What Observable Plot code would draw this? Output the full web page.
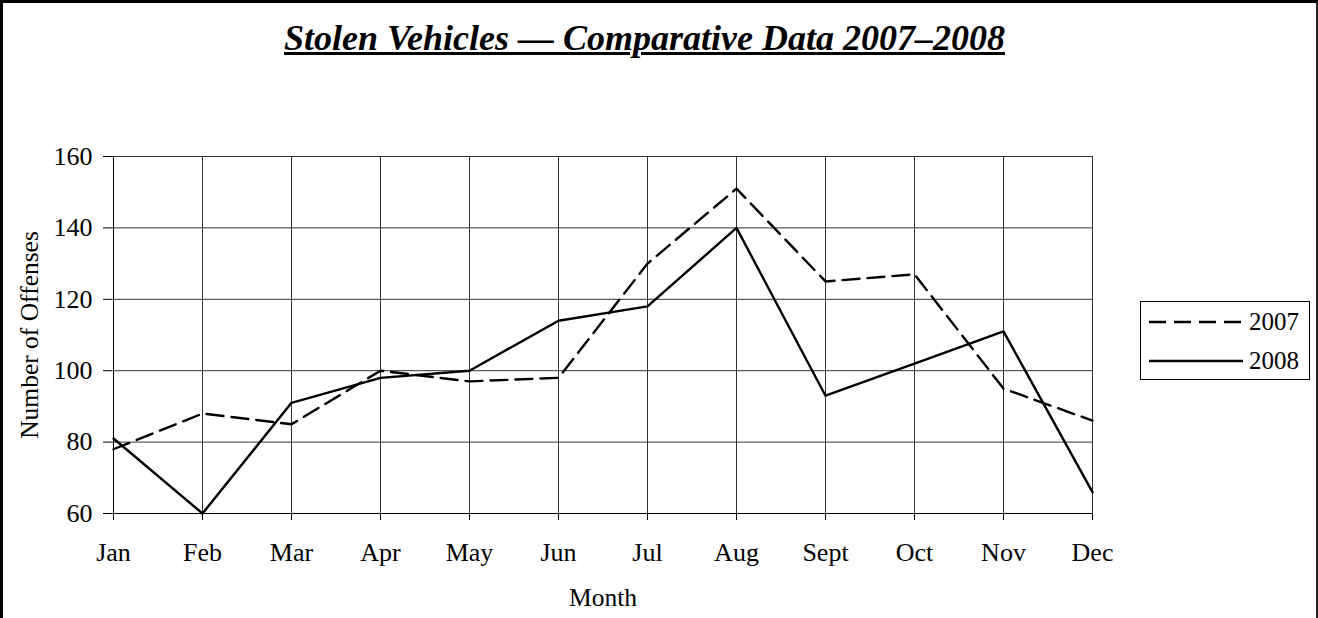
<!DOCTYPE html>
<html>
<head>
<meta charset="utf-8">
<script src="https://cdn.jsdelivr.net/npm/d3@7"></script>
<script src="https://cdn.jsdelivr.net/npm/@observablehq/plot@0.6"></script>
<style>
  html, body { margin: 0; padding: 0; background: #fff; }
  #wrap { position: relative; width: 1318px; height: 618px; overflow: hidden; font-family: "Liberation Serif", "Times New Roman", serif; }
  #frame { position: absolute; left: 0; top: 0; width: 1318px; height: 640px; border-left: 3px solid #000; border-top: 3px solid #000; border-right: 2px solid #222; box-sizing: border-box; }
  #title { position: absolute; left: 0; width: 1289px; top: 18px; line-height: 40px; text-align: center; font-weight: bold; font-style: italic; text-decoration: underline; text-decoration-thickness: 2.5px; text-underline-offset: 2px; font-size: 36px; color: #000; white-space: nowrap; }
  #chart { position: absolute; left: 0; top: 0; }
  #legend { position: absolute; left: 1140px; top: 301px; width: 170px; height: 79px; border: 1px solid #000; box-sizing: border-box; background: #fff; }
  .row { position: absolute; left: 8px; height: 30px; display: flex; align-items: center; font-size: 25px; color: #000; }
  .row svg { margin-right: 5px; }
</style>
</head>
<body>
<div id="wrap">
  <div id="frame"></div>
  <div id="title">Stolen Vehicles — Comparative Data 2007–2008</div>
  <div id="chart"></div>
  <div id="legend"></div>
</div>
<script>
const months = ["Jan","Feb","Mar","Apr","May","Jun","Jul","Aug","Sept","Oct","Nov","Dec"];
const values2007 = [78, 88, 85, 100, 97, 98, 130, 151, 125, 127, 95, 86];
const values2008 = [81, 60, 91, 98, 100, 114, 118, 140, 93, 102, 111, 66];
const seriesNames = ["2007", "2008"];
const yTicks = [60, 80, 100, 120, 140, 160];
const yLabel = "Number of Offenses";
const xLabel = "Month";

const dash = "17,8";
const rows = [];
months.forEach((m, i) => {
  rows.push({month: m, value: values2007[i], series: "2007"});
  rows.push({month: m, value: values2008[i], series: "2008"});
});

const chart = Plot.plot({
  width: 1318,
  height: 618,
  marginLeft: 112,
  marginRight: 225,
  marginTop: 156,
  marginBottom: 105,
  style: {fontFamily: "'Liberation Serif', 'Times New Roman', serif", fontSize: "26px", color: "#000", background: "transparent", overflow: "visible"},
  x: {type: "point", domain: months, padding: 0, label: null},
  y: {domain: [60, 160], label: null},
  marks: [
    Plot.gridY(yTicks, {stroke: "#333", strokeOpacity: 1, strokeWidth: 1}),
    Plot.gridX(months, {stroke: "#333", strokeOpacity: 1, strokeWidth: 1}),
    Plot.axisY({ticks: yTicks, tickSize: 9, tickPadding: 11, label: null, stroke: "#000", fontSize: 26}),
    Plot.axisX({tickSize: 7, tickPadding: 22, label: null, stroke: "#000", fontSize: 26}),
    Plot.ruleY([60], {stroke: "#000"}),
    Plot.ruleX([months[0]], {stroke: "#000"}),
    Plot.line(rows.filter(d => d.series === "2007"), {x: "month", y: "value", stroke: "#000", strokeWidth: 2.4, strokeDasharray: dash}),
    Plot.line(rows.filter(d => d.series === "2008"), {x: "month", y: "value", stroke: "#000", strokeWidth: 2.4}),
    Plot.text([yLabel], {frameAnchor: "left", textAnchor: "middle", lineAnchor: "middle", rotate: -90, dx: -83, fontSize: 25.5, fill: "#000"}),
    Plot.text([xLabel], {frameAnchor: "bottom", textAnchor: "middle", lineAnchor: "middle", dy: 84, fontSize: 25.5, fill: "#000"})
  ]
});
document.getElementById("chart").appendChild(chart);

const legend = document.getElementById("legend");
seriesNames.forEach((name, i) => {
  const row = document.createElement("div");
  row.className = "row";
  row.style.top = (5 + i * 39) + "px";
  const svg = d3.create("svg").attr("width", 95).attr("height", 10);
  svg.append("line").attr("x1", 0).attr("x2", 94).attr("y1", 5).attr("y2", 5)
    .attr("stroke", "#000").attr("stroke-width", 2.4)
    .attr("stroke-dasharray", name === "2007" ? dash : null);
  row.appendChild(svg.node());
  const span = document.createElement("span");
  span.textContent = name;
  row.appendChild(span);
  legend.appendChild(row);
});
</script>
</body>
</html>
